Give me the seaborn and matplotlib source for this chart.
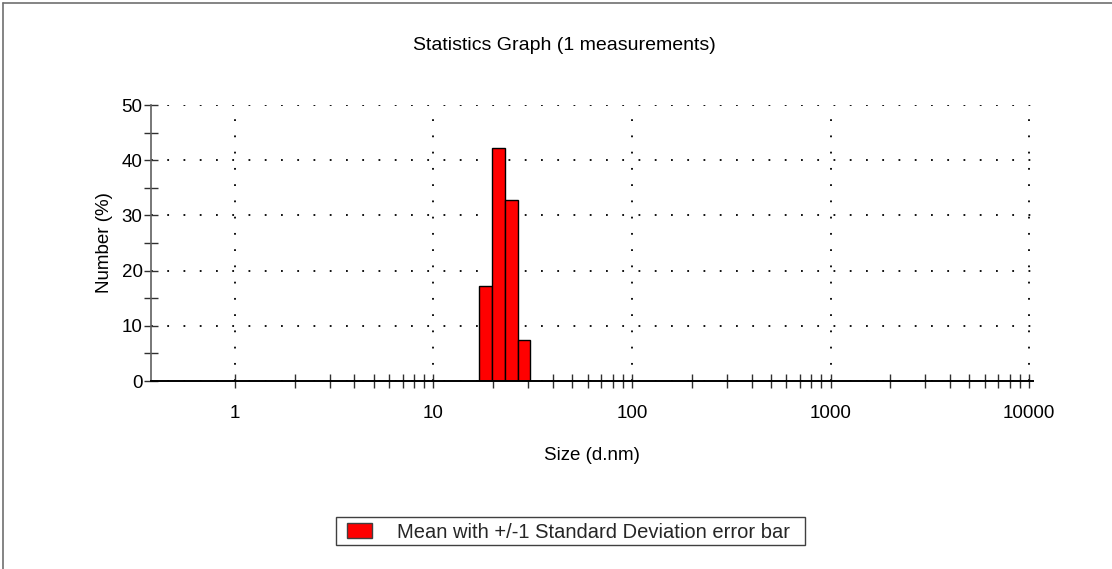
import numpy as np
import pandas as pd
import matplotlib
matplotlib.use("Agg")
import matplotlib.pyplot as plt
from matplotlib.lines import Line2D
from matplotlib.patches import Patch, Rectangle
from matplotlib.ticker import FixedLocator, NullFormatter
import seaborn as sns

# Data
bin_edges = [17.0, 19.8, 22.9, 26.6, 30.6]          # size class edges (d.nm)
number_pct = [17.2, 42.3, 32.7, 7.5]                 # Number (%)
x_tick_labels = ["1", "10", "100", "1000", "10000"]
y_tick_labels = ["0", "10", "20", "30", "40", "50"]

sns.set_theme(style="white")
plt.rcParams["font.family"] = ["Liberation Sans", "DejaVu Sans"]

fig = plt.figure(figsize=(11.12, 5.69), dpi=100)
W, H = 1112, 569
ax = fig.add_axes([151 / W, 1 - 381 / H, (1033 - 151) / W, (381 - 105) / H])

centers = np.sqrt(np.array(bin_edges[:-1]) * np.array(bin_edges[1:]))
df = pd.DataFrame({"size": centers, "number": number_pct})
sns.histplot(data=df, x="size", weights="number",
             bins=[float(v) for v in np.log10(bin_edges)],
             log_scale=True, stat="count", color="#ff0000", alpha=1,
             edgecolor="black", linewidth=1.0, ax=ax, legend=False)

ax.set_xscale("log")
ax.set_xlim(0.3776, 10470)
ax.set_ylim(0, 50)

majors = [1, 10, 100, 1000, 10000]
ax.xaxis.set_major_locator(FixedLocator(majors))
ax.set_xticklabels(x_tick_labels)
minors = [m * d for d in majors[:-1] for m in range(2, 10)]
ax.xaxis.set_minor_locator(FixedLocator(minors))
ax.xaxis.set_minor_formatter(NullFormatter())
ax.set_yticks([0, 10, 20, 30, 40, 50])
ax.set_yticklabels(y_tick_labels)
ax.yaxis.set_minor_locator(FixedLocator([5, 15, 25, 35, 45]))

ax.tick_params(axis="both", which="both", direction="inout", length=10, width=1,
               color="#303030", labelsize=13.5, labelcolor="black")
ax.tick_params(axis="x", which="major", pad=12)
ax.tick_params(axis="y", which="major", pad=1)
ax.tick_params(axis="x", which="both", bottom=True)
ax.tick_params(axis="y", which="both", left=True)

ax.grid(True, which="major", linestyle=(0, (1, 8)), color="black", linewidth=1.3)
ax.set_axisbelow(True)
for s in ["top", "right"]:
    ax.spines[s].set_visible(False)
ax.spines["left"].set_color("#606060")
ax.spines["bottom"].set_color("black")
ax.spines["left"].set_linewidth(1.2)
ax.spines["bottom"].set_linewidth(1.4)
ax.spines["left"].set_zorder(5)
ax.spines["bottom"].set_zorder(5)

ax.set_xlabel("Size (d.nm)", fontsize=13.5, labelpad=18, color="black")
ax.set_ylabel("Number (%)", fontsize=13.5, labelpad=6, color="black")
fig.text(564 / W, 1 - 45 / H, "Statistics Graph (1 measurements)", ha="center",
         va="center", fontsize=14, color="black")

# legend box
fig.add_artist(Rectangle((336 / W, 1 - 545 / H), (805 - 336) / W, 28 / H,
                         transform=fig.transFigure, facecolor="white",
                         edgecolor="#404040", linewidth=1))
handle = Patch(facecolor="#ff0000", edgecolor="#404040", linewidth=1)
leg = fig.legend([handle], ["Mean with +/-1 Standard Deviation error bar"],
                 loc="center left", bbox_to_anchor=(347 / W, 1 - 532 / H),
                 frameon=False, fontsize=14.5,
                 handlelength=1.25, handleheight=0.8, handletextpad=1.25,
                 borderpad=0.0, borderaxespad=0)

fig.add_artist(Line2D([3 / W, 1], [1 - 3 / H, 1 - 3 / H], color="#707070", lw=1.2,
                      transform=fig.transFigure))
fig.add_artist(Line2D([3 / W, 3 / W], [0, 1 - 3 / H], color="#707070", lw=1.2,
                      transform=fig.transFigure))

fig.savefig("out.png", dpi=100)
